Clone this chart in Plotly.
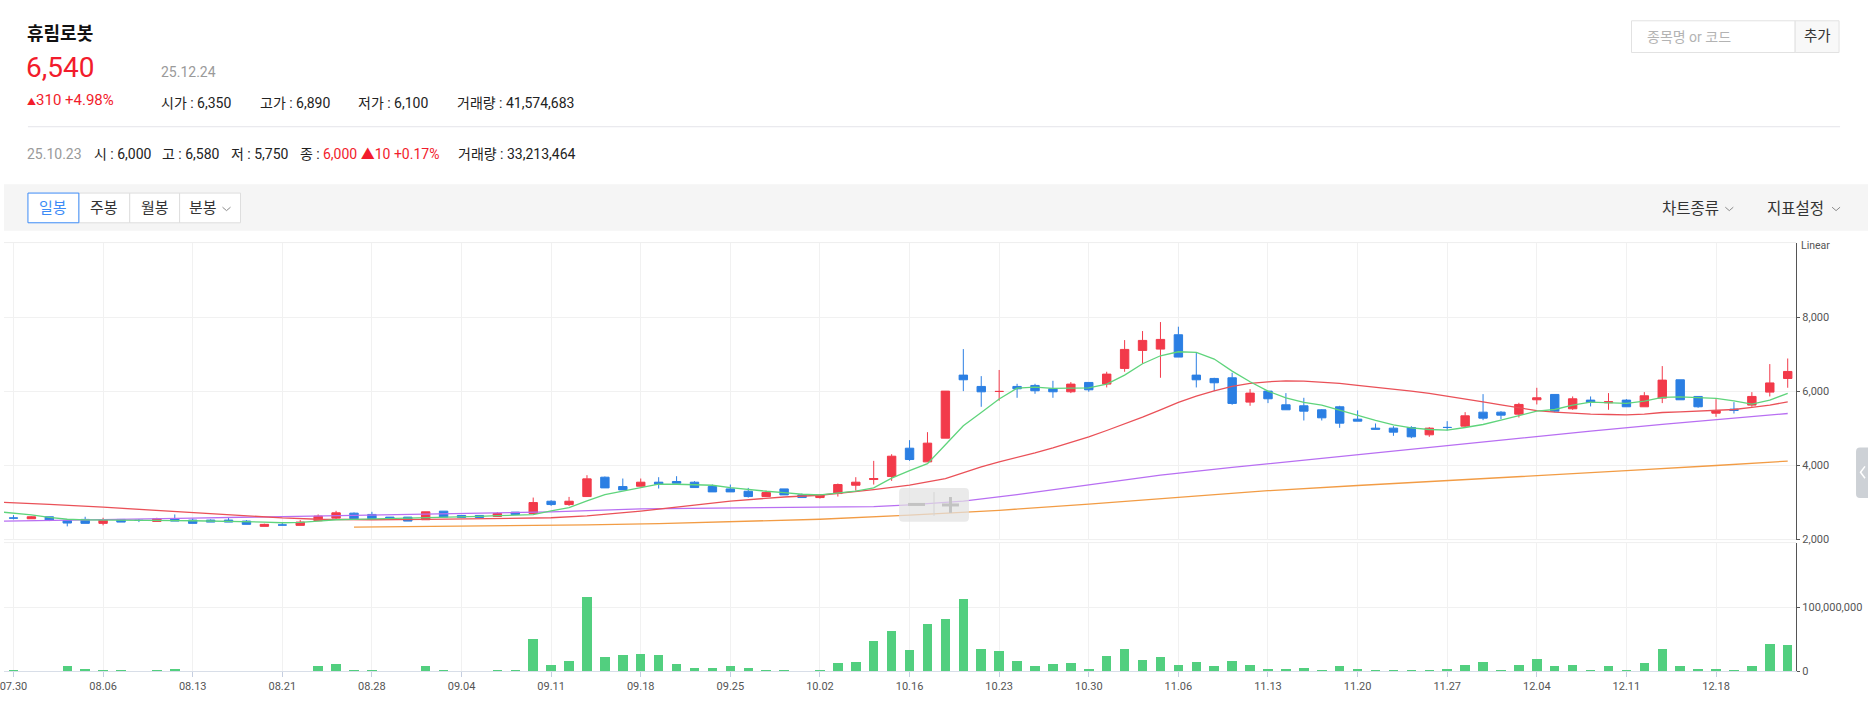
import plotly.graph_objects as go

W, H = 1868, 706
FONT = "Roboto, 'Noto Sans CJK KR', sans-serif"
RED = "#f23a4a"
BLUE = "#2b7fe3"
VOLC = "#52cf7f"
TXT_RED = "#f21c2c"

# ---------------- data ----------------
lead_date = "2025-07-29"
dates = [
    "2025-07-30", "2025-07-31", "2025-08-01", "2025-08-04", "2025-08-05", "2025-08-06", "2025-08-07", "2025-08-08",
    "2025-08-11", "2025-08-12", "2025-08-13", "2025-08-14", "2025-08-18", "2025-08-19", "2025-08-20", "2025-08-21",
    "2025-08-22", "2025-08-25", "2025-08-26", "2025-08-27", "2025-08-28", "2025-08-29", "2025-09-01", "2025-09-02",
    "2025-09-03", "2025-09-04", "2025-09-05", "2025-09-08", "2025-09-09", "2025-09-10", "2025-09-11", "2025-09-12",
    "2025-09-15", "2025-09-16", "2025-09-17", "2025-09-18", "2025-09-19", "2025-09-22", "2025-09-23", "2025-09-24",
    "2025-09-25", "2025-09-26", "2025-09-29", "2025-09-30", "2025-10-01", "2025-10-02", "2025-10-10", "2025-10-13",
    "2025-10-14", "2025-10-15", "2025-10-16", "2025-10-17", "2025-10-20", "2025-10-21", "2025-10-22", "2025-10-23",
    "2025-10-24", "2025-10-27", "2025-10-28", "2025-10-29", "2025-10-30", "2025-10-31", "2025-11-03", "2025-11-04",
    "2025-11-05", "2025-11-06", "2025-11-07", "2025-11-10", "2025-11-11", "2025-11-12", "2025-11-13", "2025-11-14",
    "2025-11-17", "2025-11-18", "2025-11-19", "2025-11-20", "2025-11-21", "2025-11-24", "2025-11-25", "2025-11-26",
    "2025-11-27", "2025-11-28", "2025-12-01", "2025-12-02", "2025-12-03", "2025-12-04", "2025-12-05", "2025-12-08",
    "2025-12-09", "2025-12-10", "2025-12-11", "2025-12-12", "2025-12-15", "2025-12-16", "2025-12-17", "2025-12-18",
    "2025-12-19", "2025-12-22", "2025-12-23", "2025-12-24",
]

opens = [2585, 2563, 2616, 2518, 2545, 2438, 2545, 2520, 2491, 2563,
         2527, 2527, 2527, 2500, 2357, 2395, 2384, 2509, 2580, 2714,
         2679, 2607, 2607, 2536, 2768, 2652, 2652, 2625, 2741, 2703,
         3036, 2946, 3162, 3685, 3432, 3441, 3550, 3568, 3550, 3432,
         3369, 3306, 3162, 3369, 3207, 3135, 3243, 3468, 3622, 3703,
         4468, 4099, 4739, 6441, 6135, 6000, 6135, 6162, 6072, 5991,
         6243, 6198, 6622, 7108, 7144, 7531, 6441, 6351, 6369, 5712,
         6009, 5640, 5613, 5505, 5586, 5252, 5009, 5009, 5027, 4829,
         5030, 5063, 5441, 5441, 5387, 5775, 5919, 5532, 5766, 5694,
         5766, 5586, 5820, 6315, 5865, 5414, 5523, 5631, 5982, 6350]
highs = [2661, 2625, 2616, 2554, 2616, 2589, 2545, 2554, 2589, 2679,
         2572, 2545, 2598, 2527, 2429, 2473, 2527, 2679, 2777, 2732,
         2750, 2607, 2607, 2750, 2768, 2652, 2652, 2741, 2741, 3135,
         3063, 3153, 3739, 3703, 3649, 3649, 3685, 3712, 3577, 3486,
         3486, 3396, 3324, 3369, 3243, 3225, 3513, 3685, 4126, 4306,
         4685, 4901, 6009, 7144, 6414, 6580, 6207, 6207, 6288, 6252,
         6243, 6532, 7387, 7631, 7874, 7748, 7054, 6369, 6505, 6063,
         6009, 5955, 5829, 5523, 5613, 5487, 5135, 5063, 5063, 5036,
         5198, 5441, 5928, 5468, 5694, 6099, 5919, 5865, 5865, 5955,
         5793, 5982, 6685, 6315, 5865, 5793, 5712, 5982, 6739, 6890]
lows = [2545, 2563, 2500, 2357, 2438, 2384, 2473, 2473, 2491, 2500,
        2438, 2473, 2473, 2411, 2357, 2384, 2384, 2509, 2554, 2563,
        2563, 2545, 2500, 2536, 2607, 2598, 2598, 2625, 2670, 2700,
        2910, 2910, 3162, 3396, 3342, 3441, 3378, 3523, 3405, 3288,
        3288, 3135, 3162, 3207, 3135, 3108, 3162, 3324, 3486, 3586,
        4126, 4099, 4739, 6009, 5586, 5750, 5829, 5937, 5829, 5955,
        5991, 6108, 6532, 6748, 6369, 6928, 6108, 6009, 5640, 5613,
        5685, 5505, 5216, 5216, 5018, 5198, 4982, 4802, 4739, 4775,
        4946, 5027, 5225, 5252, 5297, 5649, 5441, 5505, 5595, 5505,
        5586, 5586, 5685, 5775, 5559, 5315, 5405, 5586, 5865, 6100]
closes = [2580, 2616, 2527, 2447, 2438, 2527, 2473, 2518, 2563, 2500,
          2438, 2473, 2473, 2411, 2411, 2393, 2473, 2634, 2723, 2563,
          2563, 2545, 2500, 2750, 2607, 2598, 2598, 2705, 2679, 3000,
          2946, 3036, 3640, 3396, 3342, 3550, 3495, 3523, 3405, 3288,
          3288, 3162, 3270, 3207, 3135, 3207, 3486, 3550, 3649, 4252,
          4162, 4604, 6009, 6315, 5990, 6000, 6072, 6018, 5991, 6198,
          6045, 6468, 7135, 7378, 7405, 6928, 6315, 6234, 5676, 5955,
          5802, 5505, 5468, 5288, 5144, 5198, 4982, 4901, 4775, 5009,
          5027, 5342, 5279, 5360, 5649, 5829, 5468, 5802, 5703, 5721,
          5586, 5883, 6306, 5775, 5586, 5486, 5486, 5865, 6230, 6540]

volumes_m = [1.6, 0.6, 0.6, 8.5, 4.3, 2.7, 1.6, 0.6, 1.6, 4.3,
             0.6, 0.5, 0.5, 0.5, 0.5, 0.5, 0.6, 8.5, 12.0, 2.7,
             2.7, 0.6, 0.6, 8.5, 2.7, 0.5, 0.5, 1.6, 1.6, 51.6,
             10.0, 17.0, 118.0, 23.0, 26.0, 28.0, 26.0, 11.7, 6.4, 6.4,
             8.5, 6.4, 2.7, 1.6, 0.6, 1.6, 13.8, 16.0, 48.0, 64.0,
             33.5, 75.0, 82.0, 114.0, 35.0, 33.2, 17.5, 8.5, 12.0, 13.8,
             4.3, 24.5, 35.0, 18.6, 23.0, 10.0, 16.0, 8.5, 17.0, 10.0,
             4.3, 4.3, 6.4, 2.7, 8.5, 4.3, 2.7, 2.7, 2.7, 2.7,
             4.3, 10.0, 16.0, 2.7, 10.0, 20.7, 8.5, 10.0, 2.7, 8.5,
             2.7, 13.8, 35.0, 8.5, 4.3, 4.3, 1.6, 8.5, 44.0, 41.6]

# moving averages (day index -1 = lead_date)
ma5_days = list(range(-1, 100))
ma5_vals = [2760,
            2720, 2670, 2600, 2550, 2535, 2527, 2520, 2518, 2515, 2512,
            2509, 2505, 2500, 2490, 2473, 2455, 2465, 2500, 2536, 2545,
            2554, 2563, 2572, 2585, 2598, 2610, 2625, 2645, 2661, 2676,
            2775, 2865, 3045, 3216, 3306, 3396, 3495, 3495, 3486, 3468,
            3405, 3351, 3306, 3270, 3225, 3207, 3252, 3306, 3396, 3660,
            3860, 4050, 4560, 5075, 5430, 5795, 6090, 6117, 6081, 6081,
            6099, 6198, 6441, 6748, 6964, 7072, 7054, 6874, 6550, 6261,
            6009, 5829, 5703, 5631, 5496, 5342, 5216, 5099, 5018, 4973,
            4955, 5027, 5108, 5225, 5342, 5468, 5513, 5631, 5712, 5694,
            5676, 5739, 5838, 5856, 5838, 5811, 5748, 5660, 5766, 5950]

ma20_days = [-1, 0, 2, 5, 8, 10, 12, 15, 17, 20, 23, 25, 28, 30, 32, 35, 38, 40, 43, 45,
             48, 50, 52, 54, 55, 56, 57, 58, 59, 60, 61, 62, 63, 64, 65, 66, 67, 68, 69, 70,
             71, 72, 73, 74, 75, 76, 77, 78, 79, 80, 81, 82, 83, 84, 85, 86, 87, 88, 89, 90,
             91, 92, 93, 94, 95, 96, 97, 98, 99]
ma20_vals = [3015, 3000, 2950, 2875, 2790, 2740, 2690, 2585, 2550, 2536, 2545, 2554, 2570, 2590, 2640, 2770, 2930, 3040, 3150, 3198,
             3351, 3468, 3649, 3964, 4099, 4216, 4342, 4477, 4622, 4775, 4946, 5117, 5306, 5504, 5703, 5874, 6018, 6135, 6216, 6261,
             6288, 6279, 6252, 6216, 6165, 6120, 6070, 6010, 5950, 5880, 5800, 5720, 5640, 5560, 5480, 5441, 5405, 5387, 5378, 5369,
             5387, 5432, 5450, 5468, 5486, 5513, 5568, 5631, 5721]

ma60_days = [-1, 0, 5, 10, 15, 20, 25, 28, 30, 35, 40, 45, 48, 50, 53, 56, 60, 64, 68, 72, 76, 80, 84, 88, 92, 96, 99]
ma60_vals = [2495, 2500, 2540, 2580, 2620, 2655, 2690, 2712, 2748, 2830, 2850, 2870, 2890, 2940, 3040, 3216, 3480, 3740, 3950,
             4150, 4340, 4540, 4740, 4930, 5110, 5280, 5405]

ma120_days = [19, 22, 25, 28, 32, 36, 40, 45, 50, 55, 60, 65, 70, 75, 80, 85, 90, 95, 99]
ma120_vals = [2335, 2345, 2355, 2368, 2395, 2430, 2475, 2550, 2660, 2790, 2960, 3140, 3320, 3460, 3590, 3720, 3860, 4000, 4120]

tick_dates = ["2025-07-30", "2025-08-06", "2025-08-13", "2025-08-21", "2025-08-28", "2025-09-04", "2025-09-11",
              "2025-09-18", "2025-09-25", "2025-10-02", "2025-10-16", "2025-10-23", "2025-10-30", "2025-11-06",
              "2025-11-13", "2025-11-20", "2025-11-27", "2025-12-04", "2025-12-11", "2025-12-18"]
tick_labels = ["07.30", "08.06", "08.13", "08.21", "08.28", "09.04", "09.11", "09.18", "09.25", "10.02",
               "10.16", "10.23", "10.30", "11.06", "11.13", "11.20", "11.27", "12.04", "12.11", "12.18"]

price_ticks = [2000, 4000, 6000, 8000]
price_tick_labels = ["2,000", "4,000", "6,000", "8,000"]
vol_ticks = [0, 100000000]
vol_tick_labels = ["0", "100,000,000"]


def day(i):
    return lead_date if i < 0 else dates[i]


# ---------------- figure ----------------
fig = go.Figure()

fig.add_trace(go.Candlestick(
    x=dates, open=opens, high=highs, low=lows, close=closes,
    increasing=dict(line=dict(color=RED, width=1), fillcolor=RED),
    decreasing=dict(line=dict(color=BLUE, width=1), fillcolor=BLUE),
    whiskerwidth=0, xaxis="x", yaxis="y", hoverinfo="skip", showlegend=False,
))

for d, v, c in [(ma120_days, ma120_vals, "#f29c45"), (ma60_days, ma60_vals, "#b86ff2"),
                (ma20_days, ma20_vals, "#ea5158"), (ma5_days, ma5_vals, "#5fd47c")]:
    fig.add_trace(go.Scatter(
        x=[day(i) for i in d], y=v, mode="lines", line=dict(color=c, width=1.3),
        xaxis="x", yaxis="y", hoverinfo="skip", showlegend=False,
    ))

fig.add_trace(go.Bar(
    x=dates, y=[v * 1e6 for v in volumes_m], marker=dict(color=VOLC, line=dict(width=0)),
    width=0.53, xaxis="x2", yaxis="y2", hoverinfo="skip", showlegend=False,
))


def px(x):
    return x / W


def py(y):
    return 1 - y / H


cat_array = [lead_date] + dates
xrange_ = [0.471, 100.471]
xdom = [0, 1796 / W]
axis_font = dict(size=11, color="#555", family=FONT)

fig.update_layout(
    width=W, height=H, margin=dict(l=0, r=0, t=0, b=0),
    paper_bgcolor="white", plot_bgcolor="white", showlegend=False,
    boxgap=0.33, bargap=0,
    font=dict(family=FONT),
    xaxis=dict(domain=xdom, anchor="y", type="category", categoryorder="array", categoryarray=cat_array,
               range=xrange_, tickvals=tick_dates, ticktext=tick_labels, showticklabels=False,
               showgrid=True, gridcolor="#f1f1f1", gridwidth=1, zeroline=False, showline=False,
               rangeslider=dict(visible=False), fixedrange=True),
    xaxis2=dict(domain=xdom, anchor="y2", type="category", categoryorder="array", categoryarray=cat_array,
                range=xrange_, tickvals=tick_dates, ticktext=tick_labels, showticklabels=True,
                showgrid=True, gridcolor="#f1f1f1", gridwidth=1, zeroline=False,
                showline=True, linecolor="#d8dee8", linewidth=1,
                ticks="outside", ticklen=5, tickcolor="#c5cee0", tickfont=axis_font, fixedrange=True),
    yaxis=dict(domain=[py(545), py(245)], anchor="x", side="right", range=[2000, 10020],
               tickvals=price_ticks, ticktext=price_tick_labels, showgrid=True, gridcolor="#f1f1f1",
               zeroline=False, showline=True, linecolor="#555", linewidth=1,
               ticks="outside", ticklen=3, tickcolor="#555", tickfont=axis_font, fixedrange=True),
    yaxis2=dict(domain=[py(678), py(548)], anchor="x2", side="right", range=[0, 2.02e8],
                tickvals=vol_ticks, ticktext=vol_tick_labels, showgrid=True, gridcolor="#f1f1f1",
                zeroline=False, showline=True, linecolor="#555", linewidth=1,
                ticks="outside", ticklen=3, tickcolor="#555", tickfont=axis_font, fixedrange=True),
)

shapes = []
ann = []


def rect(x0, y0, x1, y1, fill, line=None, lw=1, layer="below"):
    shapes.append(dict(type="rect", xref="paper", yref="paper", x0=px(x0), x1=px(x1), y0=py(y1), y1=py(y0),
                       fillcolor=fill, line=dict(color=line or fill, width=lw if line else 0), layer=layer))


def hline(x0, x1, y, color, lw=1, layer="below"):
    shapes.append(dict(type="line", xref="paper", yref="paper", x0=px(x0), x1=px(x1), y0=py(y), y1=py(y),
                       line=dict(color=color, width=lw), layer=layer))


def vline(x, y0, y1, color, lw=1, layer="below"):
    shapes.append(dict(type="line", xref="paper", yref="paper", x0=px(x), x1=px(x), y0=py(y0), y1=py(y1),
                       line=dict(color=color, width=lw), layer=layer))


def chevron(x, y, color="#8a8a8a", w=4, h=3.5):
    path = f"M {px(x - w)} {py(y - h / 2)} L {px(x)} {py(y + h / 2)} L {px(x + w)} {py(y - h / 2)}"
    shapes.append(dict(type="path", xref="paper", yref="paper", path=path, line=dict(color=color, width=1)))


def txt(x, y, s, size=14, color="#333", xanchor="left"):
    ann.append(dict(x=px(x), y=py(y), xref="paper", yref="paper", text=s, showarrow=False,
                    xanchor=xanchor, yanchor="middle", font=dict(size=size, color=color, family=FONT)))


# header
txt(21, 34, "<b>휴림로봇</b>", 18, "#111")
txt(20, 68, "6,540", 28, TXT_RED)
txt(155.5, 73, "25.12.24", 14, "#9a9a9a")
txt(21, 101, "<span style='font-size:9px'>▲</span>310 +4.98%", 15, TXT_RED)
txt(155.5, 104, "시가 : 6,350", 14, "#222")
txt(254.5, 104, "고가 : 6,890", 14, "#222")
txt(353, 104, "저가 : 6,100", 14, "#222")
txt(451.5, 104, "거래량 : 41,574,683", 14, "#222")
hline(24, 1840, 128, "#e4e4ea")

txt(21, 156, "25.10.23", 14, "#9a9a9a")
txt(88.5, 156, "시 : 6,000", 14, "#222")
txt(156.5, 156, "고 : 6,580", 14, "#222")
txt(225.5, 156, "저 : 5,750", 14, "#222")
txt(294.5, 156, "종 :", 14, "#222")
txt(317.5, 156, "6,000 ▲10 +0.17%", 14, TXT_RED)
txt(452.5, 156, "거래량 : 33,213,464", 14, "#222")

# search box
rect(1631, 21, 1795, 53, "white", "#e2e2e2")
rect(1795, 21, 1839, 53, "#f8f8f8", "#e2e2e2")
txt(1645, 37, "종목명 or 코드", 14, "#b3b3b3")
txt(1817, 37, "추가", 14.5, "#333", "center")

# toolbar
rect(0, 186, W, 233, "#f5f5f5")
rect(75, 195, 126, 225, "white", "#dedede")
rect(126, 195, 176, 225, "white", "#dedede")
rect(176, 195, 237, 225, "white", "#dedede")
rect(24, 195, 75, 225, "white", "#3d8bf6")
txt(49.5, 210, "일봉", 15, "#3d8bf6", "center")
txt(100.5, 210, "주봉", 15, "#333", "center")
txt(151, 210, "월봉", 15, "#333", "center")
txt(199, 210, "분봉", 15, "#333", "center")
chevron(223, 211)
txt(1660, 211, "차트종류", 15.5, "#333")
chevron(1729, 211)
txt(1765, 211, "지표설정", 15.5, "#333")
chevron(1836, 211)

# chart frame lines
hline(0, 1796, 245, "#eeeeee")
hline(0, 1796, 545, "#efefef")
hline(0, 1796, 548, "#efefef")
txt(1799, 248, "Linear", 10.5, "#555")

# zoom control overlay
r = 4
x0, x1, y0, y1 = 897, 967, 493, 527
path = (f"M {px(x0 + r)} {py(y0)} L {px(x1 - r)} {py(y0)} Q {px(x1)} {py(y0)} {px(x1)} {py(y0 + r)} "
        f"L {px(x1)} {py(y1 - r)} Q {px(x1)} {py(y1)} {px(x1 - r)} {py(y1)} L {px(x0 + r)} {py(y1)} "
        f"Q {px(x0)} {py(y1)} {px(x0)} {py(y1 - r)} L {px(x0)} {py(y0 + r)} Q {px(x0)} {py(y0)} {px(x0 + r)} {py(y0)} Z")
shapes.append(dict(type="path", xref="paper", yref="paper", path=path, fillcolor="rgba(226,226,226,0.72)",
                   line=dict(width=0), layer="above"))
hline(906, 923, 509.5, "#c3c3c3", 3, "above")
vline(932, 497, 521, "#d4d4d4", 1, "above")
hline(940, 957, 510, "#c3c3c3", 3, "above")
vline(948.5, 502, 518, "#c3c3c3", 3, "above")

# right collapse tab
r = 4
x0, x1, y0, y1 = 1856, 1872, 452, 503
path = (f"M {px(x0 + r)} {py(y0)} L {px(x1)} {py(y0)} L {px(x1)} {py(y1)} L {px(x0 + r)} {py(y1)} "
        f"Q {px(x0)} {py(y1)} {px(x0)} {py(y1 - r)} L {px(x0)} {py(y0 + r)} Q {px(x0)} {py(y0)} {px(x0 + r)} {py(y0)} Z")
shapes.append(dict(type="path", xref="paper", yref="paper", path=path, fillcolor="#cdd1d6", line=dict(width=0)))
shapes.append(dict(type="path", xref="paper", yref="paper",
                   path=f"M {px(1865)} {py(471)} L {px(1860.5)} {py(477)} L {px(1865)} {py(483)}",
                   line=dict(color="white", width=1.5)))

fig.update_layout(shapes=shapes, annotations=ann)

fig.write_html("out.html", config={"displayModeBar": False},
               post_script="document.body.style.margin='0';document.body.style.overflow='hidden';")
